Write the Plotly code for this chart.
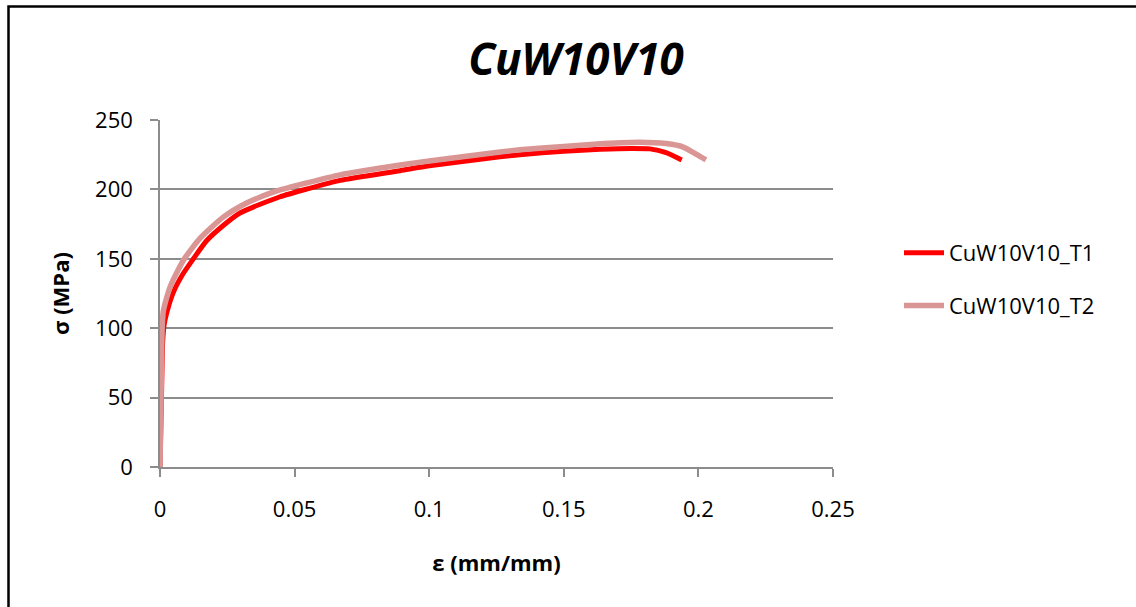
import plotly.graph_objects as go

t1_strain = [0, 0.0005, 0.001, 0.0015, 0.0025, 0.005, 0.0085, 0.0124, 0.0173, 0.0235, 0.0297,
             0.0446, 0.055, 0.0669, 0.0892, 0.1, 0.1263, 0.1337, 0.15, 0.1635, 0.175, 0.182,
             0.188, 0.1938]
t1_stress = [0, 45, 90, 102, 111, 126, 139, 150, 163, 174, 183,
             194.7, 200.5, 206.5, 213.5, 217, 223.5, 225, 227.5, 228.9, 229.5, 229.2,
             226.5, 221.2]

t2_strain = [0, 0.0004, 0.0008, 0.0012, 0.0019, 0.004, 0.0087, 0.015, 0.0235, 0.032, 0.042,
             0.0446, 0.0669, 0.0892, 0.1, 0.1263, 0.1337, 0.15, 0.165, 0.1783, 0.188,
             0.1944, 0.1995, 0.2028]
t2_stress = [0, 50, 100, 112, 118, 131, 149, 165, 180, 190, 198,
             199.6, 210.5, 217.6, 220.5, 227, 228.5, 231, 233, 234, 233,
             230.5, 225, 221.2]

x_ticks = [0, 0.05, 0.1, 0.15, 0.2, 0.25]
x_tick_text = ["0", "0.05", "0.1", "0.15", "0.2", "0.25"]
y_ticks = [0, 50, 100, 150, 200, 250]

FONT = "Open Sans"
GRID = "#8c8c8c"
FS = 22

fig = go.Figure()
fig.add_trace(go.Scatter(x=t1_strain, y=t1_stress, mode="lines", name="CuW10V10_T1",
                         legendgroup="t1",
                         line=dict(color="#FF0000", width=5, shape="spline", smoothing=0.6)))
fig.add_trace(go.Scatter(x=t2_strain, y=t2_stress, mode="lines", name="CuW10V10_T2",
                         legendgroup="t2",
                         line=dict(color="#D99694", width=5.5, shape="spline", smoothing=0.6)))

fig.update_layout(
    width=1136, height=607,
    margin=dict(l=160, r=303, t=120, b=140),
    paper_bgcolor="white", plot_bgcolor="white",
    font=dict(family=FONT, color="black", size=FS),
    title=dict(text="<b><i>CuW10V10</i></b>", x=576/1136, xref="container", xanchor="center",
               y=1 - 60/607, yref="container", yanchor="middle",
               font=dict(family=FONT, size=44, color="black")),
    xaxis=dict(range=[0, 0.25], tickvals=x_ticks, ticktext=x_tick_text,
               showgrid=False, zeroline=False, showline=True, linecolor=GRID, linewidth=1.5,
               ticks="outside", ticklen=8, tickcolor=GRID, tickwidth=1.5,
               ticklabelstandoff=14,
               tickfont=dict(size=FS, family=FONT),
               title=dict(text="<b>ε (mm/mm)</b>", font=dict(size=FS, family=FONT), standoff=33)),
    yaxis=dict(range=[0, 250], tickvals=y_ticks,
               showgrid=True, gridcolor=GRID, gridwidth=1.5, zeroline=False,
               showline=True, linecolor=GRID, linewidth=1.5,
               ticks="outside", ticklen=8, tickcolor=GRID, tickwidth=1.5,
               ticklabelstandoff=13,
               tickfont=dict(size=FS, family=FONT),
               title=dict(text="<b>σ (MPa)</b>", font=dict(size=FS, family=FONT), standoff=19)),
    legend=dict(x=(899 - 160) / 673, y=(467 - 232) / 347, xanchor="left", yanchor="top",
                font=dict(size=FS, family=FONT), tracegroupgap=21,
                bgcolor="rgba(0,0,0,0)", itemwidth=40),
    shapes=[dict(type="rect", xref="paper", yref="paper",
                 x0=(8.5 - 160) / 673, x1=1.6, y0=-0.6, y1=(467 - 6.5) / 347,
                 line=dict(color="black", width=2.5), fillcolor="rgba(0,0,0,0)", layer="below")],
)

fig.write_html("out.html")
